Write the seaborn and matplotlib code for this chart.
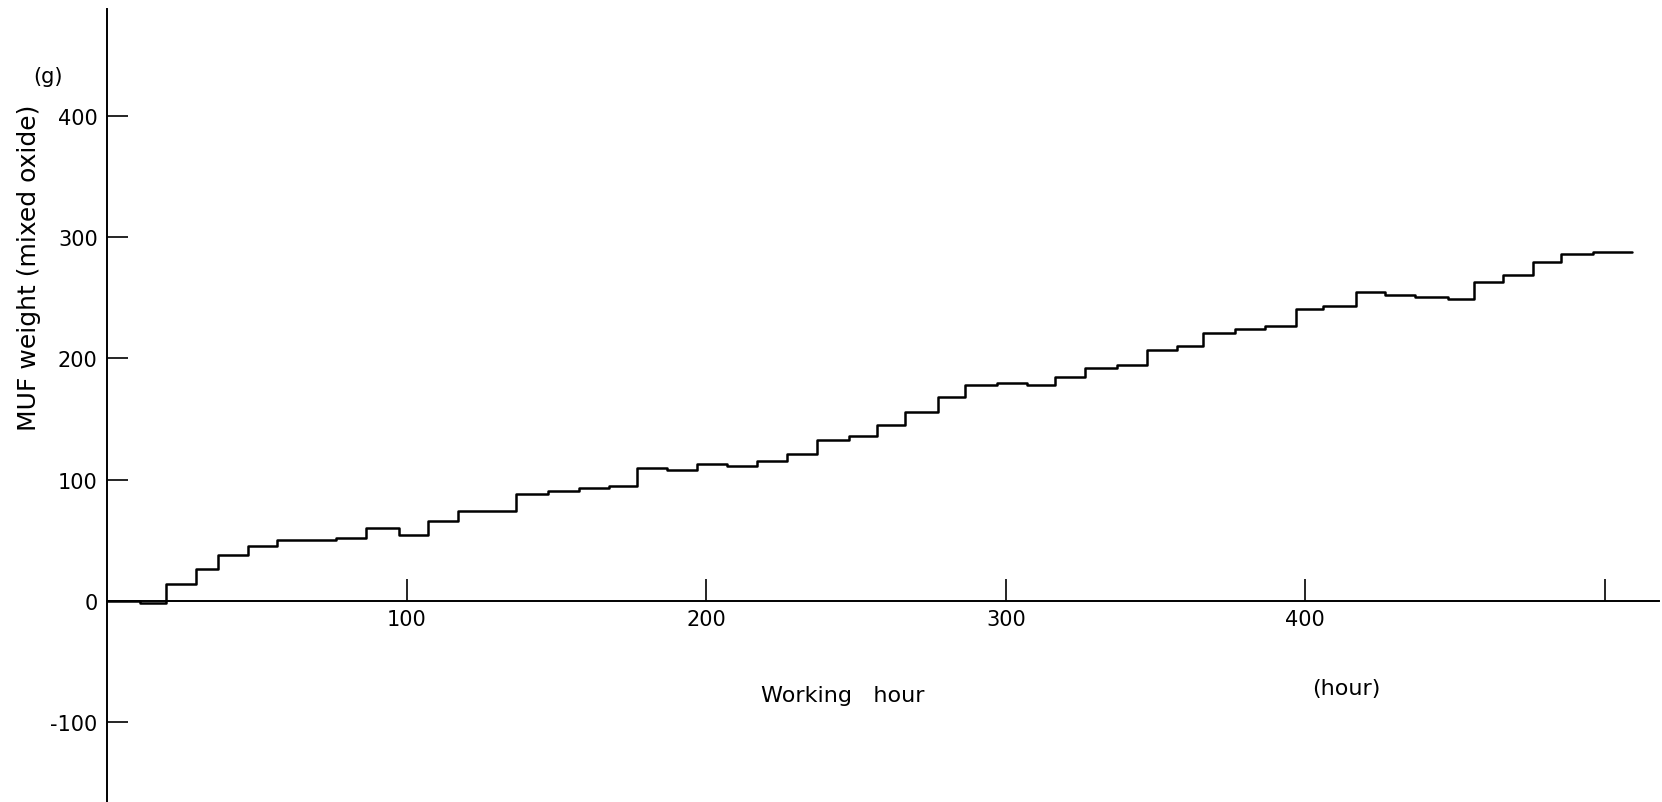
import matplotlib
matplotlib.use("Agg")
import matplotlib.pyplot as plt
import seaborn as sns
import pandas as pd

# step edges (working hour) and MUF values (g)
hour_edges = [0, 11, 19.5, 29.5, 37, 47, 56.5, 76.5, 86.5, 97.5, 107,
              117, 136.5, 147, 157.5, 167.5, 177, 187, 197, 207, 217,
              227, 237, 247.5, 257, 266.5, 277.5, 286.5, 297, 307, 316.5,
              326.5, 337, 347, 357, 366, 376.5, 386.5, 397, 406, 417,
              426.5, 436.5, 447.5, 456.5, 466, 476, 485.5, 496, 509]
muf_values = [0, -2, 14, 26, 38, 45, 50, 52, 60, 54, 66,
              74, 88, 91, 93, 95, 110, 108, 113, 111, 115,
              121, 133, 136, 145, 156, 168, 178, 180, 178, 185,
              192, 195, 207, 210, 221, 224, 227, 241, 243, 255,
              252, 251, 249, 263, 269, 280, 286, 288]
x_ticks = [100, 200, 300, 400, 500]
x_tick_labels = ["100", "200", "300", "400", ""]
y_ticks = [-100, 0, 100, 200, 300, 400]
y_tick_labels = ["-100", "0", "100", "200", "300", "400"]

df = pd.DataFrame({"hour": hour_edges, "muf": muf_values + [muf_values[-1]]})

sns.set_theme(style="white")
plt.rcParams["font.family"] = ["DejaVu Sans"]
plt.rcParams["text.color"] = "black"
plt.rcParams["xtick.color"] = "black"
plt.rcParams["ytick.color"] = "black"

fig = plt.figure(figsize=(16.62, 8.03), dpi=100)
ax = fig.add_axes([0.0646, 0.0, 0.9334, 0.987])

sns.lineplot(data=df, x="hour", y="muf", ax=ax, color="black", linewidth=1.8,
             estimator=None, sort=False, drawstyle="steps-post")

ax.set_xlim(0, 518)
ax.set_ylim(-166, 488)

for s in ["top", "right"]:
    ax.spines[s].set_visible(False)
ax.spines["bottom"].set_position(("data", 0))
ax.spines["left"].set_color("black")
ax.spines["bottom"].set_color("black")
ax.spines["left"].set_linewidth(1.4)
ax.spines["bottom"].set_linewidth(1.4)

ax.set_xticks(x_ticks)
ax.set_xticklabels(x_tick_labels)
ax.set_yticks(y_ticks)
ax.set_yticklabels(y_tick_labels)
ax.tick_params(axis="x", direction="in", length=16, width=1.2, pad=6,
               labelsize=15, labelcolor="black", bottom=True)
ax.tick_params(axis="y", direction="in", length=15, width=1.2, pad=7,
               labelsize=15, labelcolor="black", left=True)

ax.set_xlabel("")
ax.set_ylabel("")
ax.grid(False)

fig.text(29 / 1662, 1 - 268 / 803, "MUF weight (mixed oxide)", rotation=90,
         ha="center", va="center", fontsize=18, color="black")
fig.text(48 / 1662, 1 - 77 / 803, "(g)", ha="center", va="center",
         fontsize=15, color="black")
fig.text(843 / 1662, 1 - 696 / 803, "Working   hour", ha="center",
         va="center", fontsize=16, color="black")
fig.text(1346 / 1662, 1 - 689 / 803, "(hour)", ha="center", va="center",
         fontsize=16, color="black")

fig.savefig("out.png", dpi=100, facecolor="white")
